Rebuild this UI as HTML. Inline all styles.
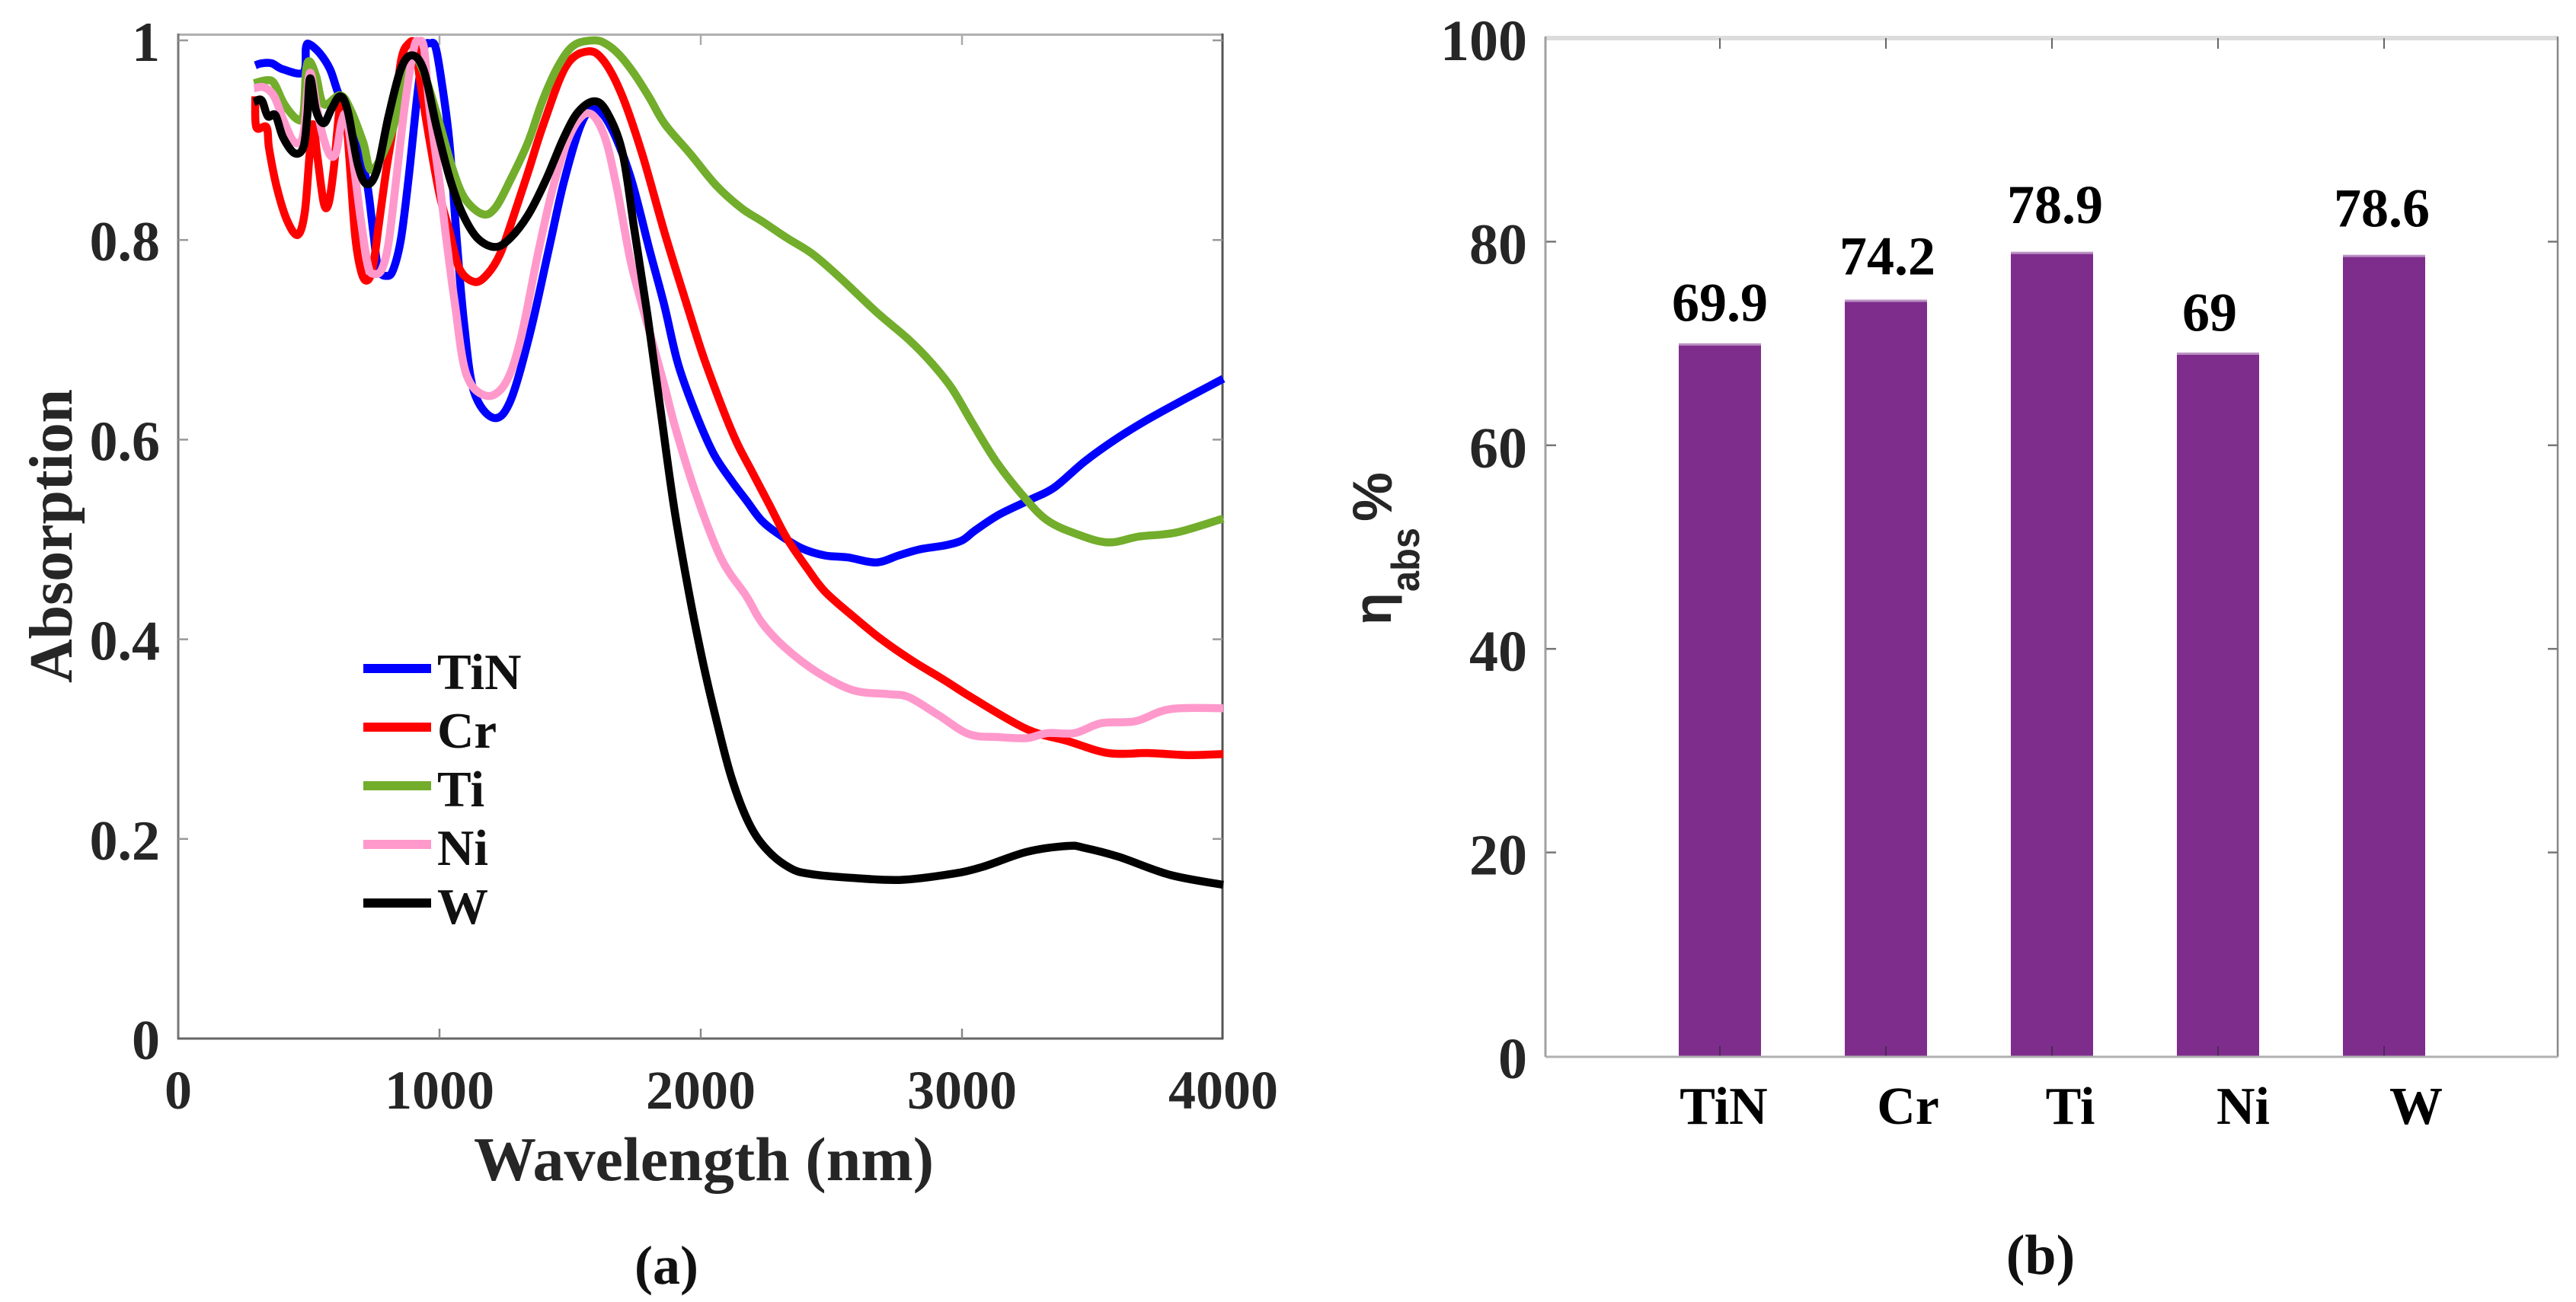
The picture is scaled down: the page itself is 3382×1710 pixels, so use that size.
<!DOCTYPE html>
<html lang="en">
<head>
<meta charset="utf-8">
<title>Absorption spectra and average absorption efficiency</title>
<style>
html,body{margin:0;padding:0;background:#fff;}
svg{display:block;}
text{font-family:"Liberation Serif",serif;font-weight:bold;}
</style>
</head>
<body>
<svg id="fig" xmlns="http://www.w3.org/2000/svg" width="3382" height="1710" viewBox="0 0 3382 1710">
  <rect width="3382" height="1710" fill="#fff"/>
  <g id="panelA"></g>
  <g id="panelB"></g>
  <text x="622" y="1550" font-size="82" fill="#262626" textLength="604" lengthAdjust="spacing">Wavelength (nm)</text>
  <text transform="translate(94,897) rotate(-90)" font-size="80" fill="#262626" textLength="386" lengthAdjust="spacing">Absorption</text>
  <text x="875" y="1686" font-size="72" fill="#111" text-anchor="middle">(a)</text>
  <text x="2679" y="1673" font-size="74" fill="#111" text-anchor="middle">(b)</text>
  <g fill="#262626">
    <text transform="translate(1826,821) rotate(-90)" font-size="70" style="font-family:'Liberation Sans',sans-serif">η</text>
    <text transform="translate(1863,777) rotate(-90)" font-size="52" textLength="84" lengthAdjust="spacingAndGlyphs" style="font-family:'Liberation Sans',sans-serif">abs</text>
    <text transform="translate(1827,685) rotate(-90)" font-size="73" style="font-family:'Liberation Sans',sans-serif">%</text>
  </g>
</svg>
<script>
// ---------- Panel (a) data ----------
const seriesNames = ["TiN", "Cr", "Ti", "Ni", "W"];
const seriesColors = ["#0000ff", "#ff0000", "#72ad2c", "#ff99cc", "#000000"];
const xTickLabels = [0, 1000, 2000, 3000, 4000];
const yTickLabels = [0, 0.2, 0.4, 0.6, 0.8, 1];

const tinNm = [295,319,358,401,479,489,503,542,581,610,649,688,722,746,766,800,824,853,883,917,941,965,985,1009,1038,1067,1094,1131,1205,1270,1345,1417,1475,1542,1592,1650,1729,1805,1860,1913,1980,2049,2120,2175,2233,2300,2388,2475,2563,2671,2758,2837,2933,3000,3050,3143,3262,3353,3469,3586,3703,3834,4000];
const tinAbs = [.975,.977,.977,.971,.968,.993,.996,.987,.971,.949,.924,.891,.858,.809,.771,.764,.771,.802,.865,.949,.992,.997,.993,.957,.898,.797,.717,.649,.622,.638,.705,.789,.857,.916,.931,.916,.865,.789,.735,.676,.627,.586,.558,.539,.519,.505,.491,.484,.482,.477,.484,.490,.494,.499,.509,.525,.540,.552,.578,.600,.619,.638,.661];

const crNm = [295,299,338,348,377,416,457,484,502,515,533,557,576,596,620,640,659,678,703,727,747,766,795,824,853,883,907,926,960,999,1038,1077,1135,1184,1232,1281,1339,1398,1484,1568,1630,1700,1776,1863,1947,2009,2087,2140,2198,2262,2330,2408,2475,2583,2691,2807,2933,3041,3248,3405,3560,3717,3860,4000];
const crAbs = [.944,.913,.913,.891,.853,.820,.805,.827,.883,.916,.883,.837,.837,.873,.936,.929,.868,.802,.766,.760,.776,.812,.868,.916,.980,.997,.995,.959,.903,.847,.809,.771,.758,.766,.786,.822,.868,.916,.974,.989,.979,.944,.886,.806,.735,.684,.629,.596,.567,.535,.501,.471,.448,.423,.400,.379,.359,.341,.310,.298,.286,.286,.284,.285];

const tiNm = [290,338,367,406,455,479,489,503,528,557,620,659,708,742,815,863,902,941,999,1048,1096,1164,1213,1271,1339,1395,1454,1514,1592,1640,1690,1747,1805,1863,1961,2058,2155,2233,2330,2428,2534,2676,2793,2883,2962,3041,3131,3236,3327,3443,3560,3679,3822,4000];
const tiAbs = [.957,.960,.957,.936,.921,.926,.969,.979,.964,.936,.945,.931,.898,.870,.906,.957,.982,.967,.918,.873,.842,.826,.832,.860,.898,.940,.974,.995,1.000,.996,.985,.966,.942,.916,.886,.855,.832,.819,.802,.786,.762,.727,.701,.677,.651,.616,.578,.543,.519,.505,.497,.503,.507,.521];

const niNm = [290,328,367,406,445,479,503,528,552,581,605,625,644,673,698,727,751,780,805,834,868,902,921,941,960,999,1028,1058,1102,1178,1251,1310,1379,1437,1504,1571,1630,1679,1729,1775,1818,1863,1907,1980,2078,2175,2233,2321,2446,2583,2720,2796,2910,3026,3143,3248,3327,3431,3534,3665,3796,4000];
const niAbs = [.952,.953,.944,.918,.898,.906,.967,.936,.906,.885,.888,.918,.923,.873,.822,.774,.766,.771,.797,.860,.936,.992,.999,.992,.936,.860,.797,.738,.666,.644,.656,.700,.789,.855,.908,.927,.905,.852,.782,.735,.695,.652,.608,.547,.481,.443,.417,.392,.367,.349,.345,.342,.324,.305,.302,.301,.306,.306,.316,.318,.330,.331];

const wNm = [290,319,343,372,401,445,479,494,505,528,557,586,620,649,688,722,761,805,853,897,941,989,1038,1087,1145,1213,1271,1339,1407,1475,1530,1592,1641,1700,1746,1796,1846,1898,1956,2010,2058,2117,2184,2254,2341,2417,2574,2767,2962,3079,3248,3405,3469,3601,3796,4000];
const wAbs = [.938,.940,.924,.925,.903,.887,.893,.924,.962,.929,.917,.931,.944,.929,.875,.856,.870,.924,.972,.985,.969,.913,.863,.827,.802,.793,.802,.825,.860,.902,.928,.939,.928,.888,.810,.725,.630,.532,.445,.375,.321,.262,.216,.189,.171,.165,.161,.159,.165,.172,.187,.193,.191,.182,.164,.154];

// ---------- Panel (b) data ----------
const barCategories = ["TiN", "Cr", "Ti", "Ni", "W"];
const barValues = [69.9, 74.2, 78.9, 69, 78.6];
const barTickLabels = [0, 20, 40, 60, 80, 100];

// ---------- helpers ----------
const NS = "http://www.w3.org/2000/svg";
function mk(parent, tag, attrs, txt) {
  const n = document.createElementNS(NS, tag);
  for (const k in attrs) n.setAttribute(k, attrs[k]);
  if (txt !== undefined) n.textContent = txt;
  parent.appendChild(n);
  return n;
}
// Axis functions
const xA = nm => 234 + nm * 0.343;
const yA = v => 1364 - v * 1311;
const xB = i => 2258 + i * 218;
const yB = v => 1387 - v * 13.37;

function smoothPath(xs, ys) {
  const p = xs.map((x, i) => [xA(x), yA(ys[i])]);
  let d = "M" + p[0][0].toFixed(1) + " " + p[0][1].toFixed(1);
  for (let i = 0; i < p.length - 1; i++) {
    const a = p[Math.max(i - 1, 0)], b = p[i], c = p[i + 1], e = p[Math.min(i + 2, p.length - 1)];
    const c1x = b[0] + (c[0] - a[0]) / 6, c1y = b[1] + (c[1] - a[1]) / 6;
    const c2x = c[0] - (e[0] - b[0]) / 6, c2y = c[1] - (e[1] - b[1]) / 6;
    d += "C" + c1x.toFixed(1) + " " + c1y.toFixed(1) + " " + c2x.toFixed(1) + " " + c2y.toFixed(1) + " " + c[0].toFixed(1) + " " + c[1].toFixed(1);
  }
  return d;
}

// ---------- Panel (a) ----------
const A = document.getElementById("panelA");
const axTop = mk(A, "line", {x1:234, y1:45.5, x2:1606, y2:45.5, stroke:"#b0b0b0", "stroke-width":3});


const axLeft = mk(A, "line", {x1:234, y1:44, x2:234, y2:1365, stroke:"#777", "stroke-width":3});


const axBottom = mk(A, "line", {x1:233, y1:1364, x2:1606, y2:1364, stroke:"#666", "stroke-width":3});


const axRight = mk(A, "line", {x1:1605, y1:44, x2:1605, y2:1365, stroke:"#555", "stroke-width":3});



xTickLabels.forEach(t => {
  const x = xA(t);
  if (t > 0 && t < 4000) {
    const tb = mk(A, "line", {x1:x, y1:1364, x2:x, y2:1351, stroke:"#888", "stroke-width":2.5});
    
    
    const tt = mk(A, "line", {x1:x, y1:46, x2:x, y2:59, stroke:"#aaa", "stroke-width":2.5});
    
    
  }
  const lbl = mk(A, "text", {x:x, y:1456, "font-size":72, fill:"#262626", "text-anchor":"middle"}, String(t));
  
  
});
yTickLabels.forEach(t => {
  const y = yA(t);
  if (t > 0) {
    const tl = mk(A, "line", {x1:234, y1:y, x2:247, y2:y, stroke:"#999", "stroke-width":2.5});
    
    
    const tr = mk(A, "line", {x1:1605, y1:y, x2:1592, y2:y, stroke:"#999", "stroke-width":2.5});
    
    
  }
  const lbl = mk(A, "text", {x:210, y:y + 27, "font-size":74, fill:"#262626", "text-anchor":"end"}, String(t));
  
  
});

const seriesNm = [tinNm, crNm, tiNm, niNm, wNm];
const seriesAbs = [tinAbs, crAbs, tiAbs, niAbs, wAbs];
seriesNames.forEach((name, i) => {
  const path = mk(A, "path", {d:smoothPath(seriesNm[i], seriesAbs[i]), fill:"none", stroke:seriesColors[i], "stroke-width":10.5, "stroke-linejoin":"round", "stroke-linecap":"butt"});
  
  
});
const legend = mk(A, "g", {});


seriesNames.forEach((name, i) => {
  const ly = 878 + i * 77;
  const swatch = mk(legend, "line", {x1:477, y1:ly, x2:566, y2:ly, stroke:seriesColors[i], "stroke-width":12});
  
  
  const label = mk(legend, "text", {x:574, y:ly + 27, "font-size":67, fill:"#111"}, name);
  
  
});

// ---------- Panel (b) ----------
const B = document.getElementById("panelB");
const bTop = mk(B, "line", {x1:2029, y1:50, x2:3358, y2:50, stroke:"#dcdcdc", "stroke-width":6});


const bLeft = mk(B, "line", {x1:2029, y1:48, x2:2029, y2:1388, stroke:"#a0a0a0", "stroke-width":3});


const bRight = mk(B, "line", {x1:3358, y1:48, x2:3358, y2:1388, stroke:"#888", "stroke-width":2.5});



barValues.forEach((v, i) => {
  const w = 108, x = xB(i) - w / 2, top = yB(v);
  const bar = mk(B, "rect", {x:x, y:top, width:w, height:yB(0) - top, fill:"#7e2d8c"});
  
  
  const cap = mk(B, "line", {x1:x, y1:top, x2:x + w, y2:top, stroke:"#bb92c4", "stroke-width":3});
  
  

  const tb = mk(B, "line", {x1:xB(i), y1:1387, x2:xB(i), y2:1374, stroke:"#4a2a55", "stroke-width":2});
  
  
  const tt = mk(B, "line", {x1:xB(i), y1:50, x2:xB(i), y2:64, stroke:"#666", "stroke-width":2});
  
  

  // hand-placed annotations in the original sit a little off the bar centres
  const valueNudge = [0, 2, 4, -11, -3][i];
  const catNudge = [5, 29, 24, 33, 42][i];
  const vy = top - 30 - 0.9 * (v - 69);
  const val = mk(B, "text", {x:xB(i) + valueNudge, y:vy, "font-size":72, fill:"#000", "text-anchor":"middle"}, String(v));
  
  
  const cat = mk(B, "text", {x:xB(i) + catNudge, y:1476, "font-size":70, fill:"#000", "text-anchor":"middle"}, barCategories[i]);
  
  
});

const bBottom = mk(B, "line", {x1:2029, y1:1388, x2:3358, y2:1388, stroke:"#b0b0b0", "stroke-width":3});



barTickLabels.forEach(t => {
  const y = yB(t);
  if (t > 0 && t < 100) {
    const tl = mk(B, "line", {x1:2030, y1:y, x2:2043, y2:y, stroke:"#777", "stroke-width":2.5});
    
    
    const tr = mk(B, "line", {x1:3358, y1:y, x2:3345, y2:y, stroke:"#777", "stroke-width":2.5});
    
    
  }
  const lbl = mk(B, "text", {x:2005, y:y + 29, "font-size":76, fill:"#262626", "text-anchor":"end"}, String(t));
  
  
});
</script>
</body>
</html>
